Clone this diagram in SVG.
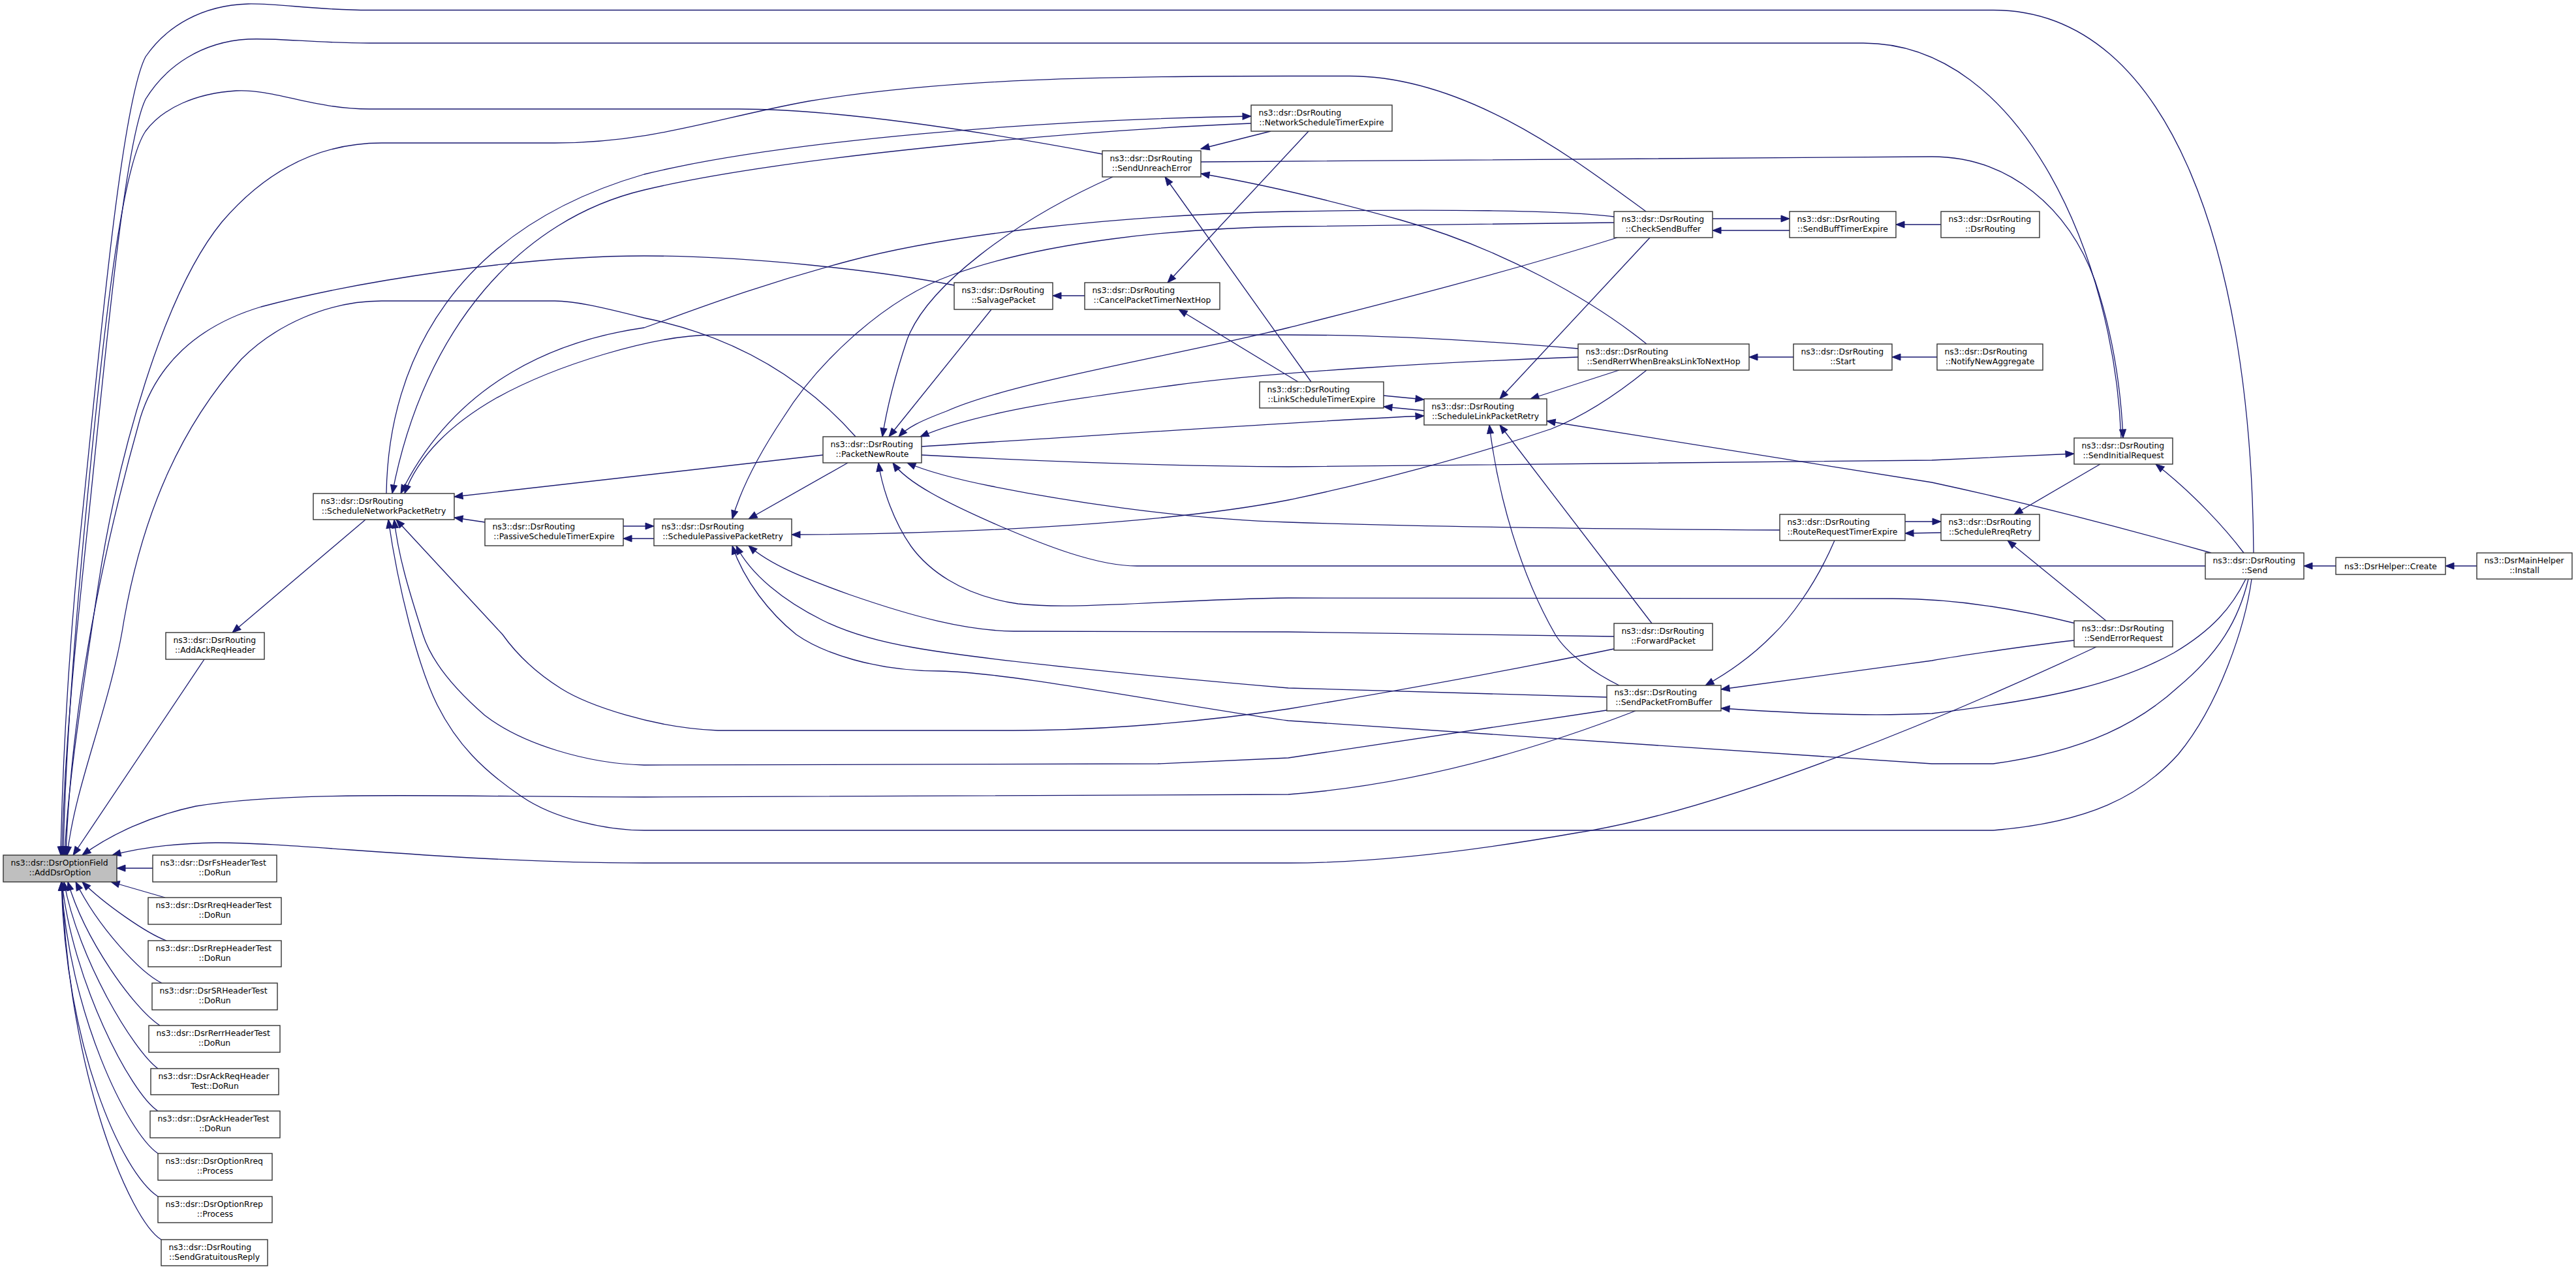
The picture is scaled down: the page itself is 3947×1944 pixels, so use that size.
<svg xmlns="http://www.w3.org/2000/svg" width="3947" height="1944" viewBox="0 0 3947 1944">
<defs>
<marker id="ah" markerWidth="14" markerHeight="10" refX="13" refY="5" orient="auto" markerUnits="userSpaceOnUse" overflow="visible">
<path d="M0,0 L13,5 L0,10 z" fill="#191970" stroke="#191970" stroke-width="1"/>
</marker>
<style>
.n rect{fill:#fff;stroke:#333;stroke-width:1.4}
.n rect.root{fill:#bfbfbf}
.n text{font-family:"DejaVu Sans","Liberation Sans",sans-serif;font-size:12.4px;fill:#000}
.n text.c{text-anchor:middle}
#edges path{fill:none;stroke:#191970;stroke-width:1.3;marker-end:url(#ah)}
</style>
</defs>
<rect x="0" y="0" width="3947" height="1944" fill="#fff"/>
<g id="edges">
<path d="M3453,847 C3450,400 3330,15.5 3054,15.5 L566,15.5 C480,15.5 430,5 380,6 C310,8 255,40 223,87 C185,160 150,560 125,800 C108,960 96,1150 93,1310"/>
<path d="M3250,671 C3240,400 3100,66 2855,66 L566,66 C480,66 430,58 380,60 C310,64 255,100 223,152 C190,220 160,560 135,800 C118,960 98,1150 95,1310"/>
<path d="M1689,236 C1550,210 1300,167 1132,167 L566,167 C480,167 420,136 362,139 C300,143 250,165 223,201 C190,250 165,450 140,700 C118,920 100,1150 97,1310"/>
<path d="M2522,324 C2420,250 2250,116.5 2068,116.5 L1974,116.5 C1700,116.5 1450,120 1239,155 C1100,180 1000,219 850,219 L585,219 C480,219 400,270 340,340 C250,450 180,700 150,900 C125,1070 104,1200 99,1310"/>
<path d="M1462,437 C1350,415 1150,392 987,392 C800,392 550,430 400,470 C300,500 240,560 215,640 C170,800 110,1050 101,1310"/>
<path d="M1311,669 C1250,600 1150,520 987,487 C920,470 880,461 850,461 L585,461 C500,461 420,500 370,550 C280,650 220,780 190,950 C170,1080 115,1200 103,1310"/>
<path d="M313,1010 L112,1310"/>
<path d="M2506,1089 C2400,1130 2200,1200 1974,1217 L987,1221 C700,1221 450,1210 300,1235 C230,1250 170,1278 126,1310"/>
<path d="M3212,991 C3000,1090 2650,1240 2415,1276 C2250,1305 2100,1322 1974,1322 L987,1322 C700,1322 450,1290 330,1291 C260,1292 210,1300 172,1310"/>
<path d="M234,1330 L179,1330"/>
<path d="M253,1375 L170,1351"/>
<path d="M255,1441 C225,1430 160,1385 126,1351"/>
<path d="M248,1506 C215,1490 150,1420 116,1351"/>
<path d="M245,1571 C205,1545 130,1440 104,1351"/>
<path d="M242,1637 C205,1610 120,1470 98,1351"/>
<path d="M242,1702 C200,1675 110,1500 95,1351"/>
<path d="M242,1767 C195,1735 105,1550 94,1351"/>
<path d="M242,1833 C185,1795 100,1600 94,1351"/>
<path d="M247,1899 C200,1870 105,1650 95,1351"/>
<path d="M560,796 L356,969"/>
<path d="M743,800 L696,793"/>
<path d="M955,806 L1002,806"/>
<path d="M1002,825 L955,825"/>
<path d="M1261,697 L696,761"/>
<path d="M1299,709 L1147,795"/>
<path d="M1917,189 C1650,200 1200,240 987,291 C800,335 650,500 601,756"/>
<path d="M592,756 C595,550 700,350 987,267 C1200,215 1600,183 1917,178"/>
<path d="M2473,332 C2400,322 2200,320 1974,324 C1700,330 1450,360 1300,400 C1150,440 1050,480 987,502 C860,520 700,580 614,756"/>
<path d="M2418,534 C2250,520 2100,513 1974,513 L1094,513 C1000,513 850,560 760,610 C690,650 640,700 620,756"/>
<path d="M2473,341 L1974,347 C1800,350 1600,370 1459,421 C1350,460 1250,560 1200,640 C1160,700 1135,750 1122,795"/>
<path d="M2478,364 C2300,420 2100,470 1974,502 C1800,545 1550,585 1450,630 C1410,645 1390,655 1377,669"/>
<path d="M2418,547 C2200,555 1950,570 1800,590 C1650,610 1500,630 1410,669"/>
<path d="M1705,271 C1550,340 1420,440 1390,520 C1370,580 1358,630 1352,669"/>
<path d="M1519,474 L1362,669"/>
<path d="M1947,201 L1840,228"/>
<path d="M2005,201 L1789,433"/>
<path d="M1662,453 L1613,453"/>
<path d="M1989,585 L1806,474"/>
<path d="M2009,585 L1785,271"/>
<path d="M2523,527 C2440,460 2300,380 2146,337 C2050,310 1950,285 1840,266"/>
<path d="M1840,248 L2960,240 C3080,240 3170,320 3210,430 C3240,520 3250,600 3253,671"/>
<path d="M2481,567 L2345,611"/>
<path d="M2523,567 C2470,610 2420,640 2377,657 C2250,700 2100,740 1974,766 C1800,800 1500,818 1213,819"/>
<path d="M2748,547 L2680,547"/>
<path d="M2968,547 L2899,547"/>
<path d="M2974,344 L2905,344"/>
<path d="M2624,335 L2742,335"/>
<path d="M2742,353 L2624,353"/>
<path d="M2120,606 L2182,612"/>
<path d="M2182,629 L2120,623"/>
<path d="M1412,684 C1700,666 2000,645 2182,637"/>
<path d="M2528,364 L2298,611"/>
<path d="M3388,847 C3300,822 3150,780 2960,739 L2370,645"/>
<path d="M2531,955 L2298,651"/>
<path d="M2481,1050 C2440,1030 2400,1000 2383,972 C2330,880 2295,760 2282,651"/>
<path d="M2919,799 L2974,799"/>
<path d="M2974,816 L2919,817"/>
<path d="M2727,812 C2400,810 2150,806 1974,800 C1800,795 1620,765 1520,745 C1460,733 1420,722 1390,709"/>
<path d="M2811,828 C2780,900 2740,950 2717,972 C2680,1010 2640,1035 2613,1050"/>
<path d="M3218,711 L3086,788"/>
<path d="M3438,847 C3410,810 3360,755 3303,711"/>
<path d="M3227,951 L3076,828"/>
<path d="M3579,867 L3530,867"/>
<path d="M3795,867 L3747,867"/>
<path d="M3379,867 L1742,867 C1680,867 1600,835 1530,805 C1450,770 1390,740 1368,709"/>
<path d="M3180,955 C3100,935 3000,917 2900,917 L1974,916 C1800,918 1650,935 1560,925 C1470,912 1420,870 1396,837 C1370,800 1352,750 1346,709"/>
<path d="M3178,981 C3100,990 3000,1005 2960,1012 L2637,1056"/>
<path d="M3441,887 C3420,930 3390,965 3331,1000 C3250,1045 3150,1070 2960,1093 C2850,1098 2740,1092 2637,1085"/>
<path d="M3445,887 C3430,950 3400,1000 3338,1052 C3280,1105 3200,1150 3054,1170 L2960,1170 L1974,1104 C1800,1080 1550,1030 1440,1028 C1340,1028 1260,1000 1220,972 C1180,940 1140,890 1122,836"/>
<path d="M3450,887 C3440,960 3400,1080 3338,1155 C3280,1220 3200,1260 3054,1272 L987,1272 C930,1272 850,1255 799,1220 C740,1180 700,1140 670,1080 C640,1020 610,900 595,796"/>
<path d="M2462,1088 L1974,1161 L1774,1170 L987,1172 C900,1170 800,1140 743,1096 C690,1050 660,1010 648,972 C625,900 610,850 604,796"/>
<path d="M2473,994 C2300,1030 2100,1065 1974,1086 C1800,1112 1650,1119 1553,1119 L1100,1119 C1000,1115 900,1080 860,1055 C820,1030 790,1000 770,972 L607,796"/>
<path d="M2462,1068 L1974,1054 C1750,1035 1500,1010 1400,992 C1330,980 1290,965 1260,950 C1200,920 1150,880 1128,836"/>
<path d="M2473,975 L1974,968 L1553,967 C1480,966 1400,945 1302,911 C1230,885 1180,865 1147,836"/>
<path d="M1412,697 C1600,707 1800,714 1974,715 C2400,713 2800,707 2960,705 L3178,695"/>
</g>
<g id="n_AddDsrOption" class="n"><rect class="root" x="5" y="1310" width="174" height="41"/><text x="16.5" y="1325.7">ns3::dsr::DsrOptionField</text><text class="c" x="92" y="1340.7">::AddDsrOption</text></g>
<g id="n_AddAckReqHeader" class="n"><rect x="254" y="969" width="151" height="41"/><text x="265.5" y="984.7">ns3::dsr::DsrRouting</text><text class="c" x="329.5" y="999.7">::AddAckReqHeader</text></g>
<g id="n_ScheduleNetworkPacketRetry" class="n"><rect x="480" y="756" width="216" height="40"/><text x="491.5" y="771.7">ns3::dsr::DsrRouting</text><text class="c" x="588" y="786.7">::ScheduleNetworkPacketRetry</text></g>
<g id="n_PassiveScheduleTimerExpire" class="n"><rect x="743" y="795" width="212" height="41"/><text x="754.5" y="810.7">ns3::dsr::DsrRouting</text><text class="c" x="849" y="825.7">::PassiveScheduleTimerExpire</text></g>
<g id="n_SchedulePassivePacketRetry" class="n"><rect x="1002" y="795" width="211" height="41"/><text x="1013.5" y="810.7">ns3::dsr::DsrRouting</text><text class="c" x="1107.5" y="825.7">::SchedulePassivePacketRetry</text></g>
<g id="n_PacketNewRoute" class="n"><rect x="1261" y="669" width="151" height="40"/><text x="1272.5" y="684.7">ns3::dsr::DsrRouting</text><text class="c" x="1336.5" y="699.7">::PacketNewRoute</text></g>
<g id="n_SalvagePacket" class="n"><rect x="1462" y="433" width="151" height="41"/><text x="1473.5" y="448.7">ns3::dsr::DsrRouting</text><text class="c" x="1537.5" y="463.7">::SalvagePacket</text></g>
<g id="n_CancelPacketTimerNextHop" class="n"><rect x="1662" y="433" width="207" height="41"/><text x="1673.5" y="448.7">ns3::dsr::DsrRouting</text><text class="c" x="1765.5" y="463.7">::CancelPacketTimerNextHop</text></g>
<g id="n_SendUnreachError" class="n"><rect x="1689" y="231" width="151" height="40"/><text x="1700.5" y="246.7">ns3::dsr::DsrRouting</text><text class="c" x="1764.5" y="261.7">::SendUnreachError</text></g>
<g id="n_NetworkScheduleTimerExpire" class="n"><rect x="1917" y="161" width="216" height="40"/><text x="1928.5" y="176.7">ns3::dsr::DsrRouting</text><text class="c" x="2025" y="191.7">::NetworkScheduleTimerExpire</text></g>
<g id="n_LinkScheduleTimerExpire" class="n"><rect x="1930" y="585" width="190" height="40"/><text x="1941.5" y="600.7">ns3::dsr::DsrRouting</text><text class="c" x="2025" y="615.7">::LinkScheduleTimerExpire</text></g>
<g id="n_ScheduleLinkPacketRetry" class="n"><rect x="2182" y="611" width="188" height="40"/><text x="2193.5" y="626.7">ns3::dsr::DsrRouting</text><text class="c" x="2276" y="641.7">::ScheduleLinkPacketRetry</text></g>
<g id="n_CheckSendBuffer" class="n"><rect x="2473" y="324" width="151" height="40"/><text x="2484.5" y="339.7">ns3::dsr::DsrRouting</text><text class="c" x="2548.5" y="354.7">::CheckSendBuffer</text></g>
<g id="n_SendRerrWhenBreaksLinkToNextHop" class="n"><rect x="2418" y="527" width="262" height="40"/><text x="2429.5" y="542.7">ns3::dsr::DsrRouting</text><text class="c" x="2549" y="557.7">::SendRerrWhenBreaksLinkToNextHop</text></g>
<g id="n_ForwardPacket" class="n"><rect x="2473" y="955" width="151" height="41"/><text x="2484.5" y="970.7">ns3::dsr::DsrRouting</text><text class="c" x="2548.5" y="985.7">::ForwardPacket</text></g>
<g id="n_SendPacketFromBuffer" class="n"><rect x="2462" y="1050" width="175" height="39"/><text x="2473.5" y="1065.2">ns3::dsr::DsrRouting</text><text class="c" x="2549.5" y="1080.2">::SendPacketFromBuffer</text></g>
<g id="n_RouteRequestTimerExpire" class="n"><rect x="2727" y="788" width="192" height="40"/><text x="2738.5" y="803.7">ns3::dsr::DsrRouting</text><text class="c" x="2823" y="818.7">::RouteRequestTimerExpire</text></g>
<g id="n_SendBuffTimerExpire" class="n"><rect x="2742" y="324" width="163" height="40"/><text x="2753.5" y="339.7">ns3::dsr::DsrRouting</text><text class="c" x="2823.5" y="354.7">::SendBuffTimerExpire</text></g>
<g id="n_Start" class="n"><rect x="2748" y="527" width="151" height="40"/><text x="2759.5" y="542.7">ns3::dsr::DsrRouting</text><text class="c" x="2823.5" y="557.7">::Start</text></g>
<g id="n_DsrRouting" class="n"><rect x="2974" y="324" width="151" height="40"/><text x="2985.5" y="339.7">ns3::dsr::DsrRouting</text><text class="c" x="3049.5" y="354.7">::DsrRouting</text></g>
<g id="n_NotifyNewAggregate" class="n"><rect x="2968" y="527" width="162" height="40"/><text x="2979.5" y="542.7">ns3::dsr::DsrRouting</text><text class="c" x="3049" y="557.7">::NotifyNewAggregate</text></g>
<g id="n_SendInitialRequest" class="n"><rect x="3178" y="671" width="151" height="40"/><text x="3189.5" y="686.7">ns3::dsr::DsrRouting</text><text class="c" x="3253.5" y="701.7">::SendInitialRequest</text></g>
<g id="n_ScheduleRreqRetry" class="n"><rect x="2974" y="788" width="151" height="40"/><text x="2985.5" y="803.7">ns3::dsr::DsrRouting</text><text class="c" x="3049.5" y="818.7">::ScheduleRreqRetry</text></g>
<g id="n_Send" class="n"><rect x="3379" y="847" width="151" height="40"/><text x="3390.5" y="862.7">ns3::dsr::DsrRouting</text><text class="c" x="3454.5" y="877.7">::Send</text></g>
<g id="n_SendErrorRequest" class="n"><rect x="3178" y="951" width="151" height="40"/><text x="3189.5" y="966.7">ns3::dsr::DsrRouting</text><text class="c" x="3253.5" y="981.7">::SendErrorRequest</text></g>
<g id="n_DsrHelperCreate" class="n"><rect x="3579" y="854" width="168" height="26"/><text class="c" x="3663" y="871.5">ns3::DsrHelper::Create</text></g>
<g id="n_DsrMainHelperInstall" class="n"><rect x="3795" y="847" width="146" height="40"/><text x="3806.5" y="862.7">ns3::DsrMainHelper</text><text class="c" x="3868" y="877.7">::Install</text></g>
<g id="n_DsrFsHeaderTest" class="n"><rect x="234" y="1310" width="190" height="41"/><text x="245.5" y="1325.7">ns3::dsr::DsrFsHeaderTest</text><text class="c" x="329" y="1340.7">::DoRun</text></g>
<g id="n_DsrRreqHeaderTest" class="n"><rect x="227" y="1375" width="204" height="41"/><text x="238.5" y="1390.7">ns3::dsr::DsrRreqHeaderTest</text><text class="c" x="329" y="1405.7">::DoRun</text></g>
<g id="n_DsrRrepHeaderTest" class="n"><rect x="227" y="1441" width="204" height="40"/><text x="238.5" y="1456.7">ns3::dsr::DsrRrepHeaderTest</text><text class="c" x="329" y="1471.7">::DoRun</text></g>
<g id="n_DsrSRHeaderTest" class="n"><rect x="233" y="1506" width="192" height="41"/><text x="244.5" y="1521.7">ns3::dsr::DsrSRHeaderTest</text><text class="c" x="329" y="1536.7">::DoRun</text></g>
<g id="n_DsrRerrHeaderTest" class="n"><rect x="228" y="1571" width="201" height="41"/><text x="239.5" y="1586.7">ns3::dsr::DsrRerrHeaderTest</text><text class="c" x="328.5" y="1601.7">::DoRun</text></g>
<g id="n_DsrAckReqHeaderTest" class="n"><rect x="231" y="1637" width="196" height="40"/><text x="242.5" y="1652.7">ns3::dsr::DsrAckReqHeader</text><text class="c" x="329" y="1667.7">Test::DoRun</text></g>
<g id="n_DsrAckHeaderTest" class="n"><rect x="230" y="1702" width="199" height="41"/><text x="241.5" y="1717.7">ns3::dsr::DsrAckHeaderTest</text><text class="c" x="329.5" y="1732.7">::DoRun</text></g>
<g id="n_DsrOptionRreqProcess" class="n"><rect x="242" y="1767" width="175" height="41"/><text x="253.5" y="1782.7">ns3::dsr::DsrOptionRreq</text><text class="c" x="329.5" y="1797.7">::Process</text></g>
<g id="n_DsrOptionRrepProcess" class="n"><rect x="242" y="1833" width="175" height="40"/><text x="253.5" y="1848.7">ns3::dsr::DsrOptionRrep</text><text class="c" x="329.5" y="1863.7">::Process</text></g>
<g id="n_SendGratuitousReply" class="n"><rect x="247" y="1899" width="163" height="40"/><text x="258.5" y="1914.7">ns3::dsr::DsrRouting</text><text class="c" x="328.5" y="1929.7">::SendGratuitousReply</text></g>
</svg>
